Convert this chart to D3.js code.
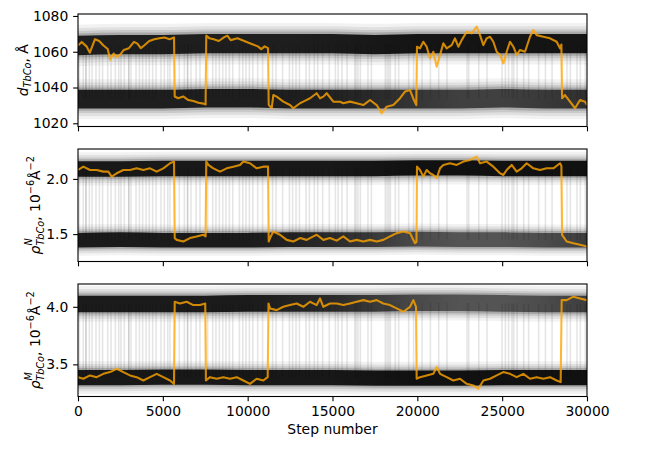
<!DOCTYPE html>
<html><head><meta charset="utf-8">
<script src="https://cdn.jsdelivr.net/npm/d3@7"></script>
<style>body{margin:0;background:#fff}text{font-family:"DejaVu Sans",sans-serif;fill:#000}</style>
</head><body><svg id="c" width="665" height="449"></svg>
<script>
// ---------- data ----------
const xTicks = [0, 5000, 10000, 15000, 20000, 25000, 30000];
const dTicks = [1020, 1040, 1060, 1080];
const nTicks = [1.5, 2.0];
const mTicks = [3.5, 4.0];

// highlighted walker (orange)
const orangeStepsD = [0,220,500,700,1000,1250,1500,1750,1900,2100,2300,2500,2700,3000,3300,3500,3700,3900,4200,4500,4800,5100,5400,5660,5700,5900,6200,6500,6800,7100,7400,7520,7560,7750,8000,8300,8600,8800,9000,9400,9800,10200,10600,10800,11000,11200,11240,11415,11513,11710,12103,12495,12692,13085,13281,13674,14067,14264,14460,14657,15050,15442,15639,16032,16425,16818,17211,17604,17898,18193,18586,18980,19274,19568,19800,19940,19980,20157,20354,20551,20747,20943,21140,21337,21533,21730,22024,22220,22417,22614,22908,23203,23498,23694,23891,24087,24284,24480,24677,24873,25070,25266,25462,25659,25855,26052,26347,26641,26838,27034,27427,27820,28213,28409,28490,28530,28704,28999,29294,29588,29883,30000];
const orangeD = [1063.5,1065.5,1063,1059.5,1067,1066,1063.5,1061.5,1055.5,1059,1057,1058.5,1061,1062,1065.5,1064.5,1062,1063.5,1066,1067,1067.5,1068,1067,1068,1035,1034,1035,1033,1032.5,1031.5,1031,1030.5,1069,1067.5,1067,1066,1068,1069,1066.5,1067.5,1066,1064.5,1063,1061.5,1063,1062,1030.3,1028.4,1035.8,1034.9,1032.1,1030.2,1028.4,1031.2,1032.1,1034,1036.8,1034,1034.9,1036.8,1032.1,1032,1031.2,1032.1,1031.2,1030.2,1033,1030.2,1025.6,1029.3,1030.2,1034,1037.7,1038.6,1033,1030.2,1062.8,1061.9,1065.6,1062.8,1056.3,1060,1051.6,1058.2,1064.7,1061.9,1063.7,1067.5,1062.8,1066.5,1071.2,1070.3,1074,1069.3,1063.7,1067.5,1068.4,1065.6,1060,1058.2,1053.5,1060,1065.6,1062.8,1058.2,1061,1060,1068.4,1072.1,1069.3,1068.4,1067.5,1065.6,1061.9,1064,1034,1035.8,1032.1,1028.4,1033,1032.1,1030.2];

const orangeStepsN = [0,314,707,1100,1493,1788,1984,2279,2672,3065,3458,3851,4244,4637,5030,5423,5660,5700,5816,6208,6601,6994,7387,7520,7560,7682,7977,8370,8763,9156,9549,9745,10138,10531,10924,11200,11240,11317,11513,11906,12299,12692,13085,13478,13871,14067,14460,14853,15246,15639,16032,16425,16818,17211,17604,17997,18390,18782,19175,19568,19863,19950,19980,20157,20354,20551,20747,20943,21140,21337,21533,21926,22319,22712,23105,23498,23694,24087,24480,24873,25070,25266,25561,25855,26150,26445,26838,27231,27624,28016,28409,28490,28530,28802,29196,29588,30000];
const orangeN = [2.081,2.111,2.081,2.081,2.066,2.066,2.021,2.051,2.081,2.081,2.096,2.081,2.096,2.066,2.096,2.142,2.157,1.464,1.448,1.433,1.464,1.479,1.494,1.479,2.157,2.127,2.096,2.066,2.096,2.111,2.127,2.157,2.142,2.096,2.111,2.111,1.433,1.464,1.524,1.494,1.448,1.433,1.464,1.448,1.479,1.494,1.448,1.464,1.441,1.479,1.433,1.448,1.433,1.448,1.433,1.448,1.479,1.509,1.524,1.509,1.418,1.43,2.111,2.081,2.021,2.081,2.051,2.036,2.006,2.096,2.127,2.142,2.127,2.157,2.172,2.202,2.142,2.157,2.111,2.051,2.036,2.081,2.127,2.066,2.096,2.142,2.096,2.081,2.096,2.096,2.142,2.12,1.494,1.433,1.418,1.403,1.388];

const orangeStepsM = [0,314,707,1100,1493,1886,2279,2672,3065,3458,3851,4244,4637,5030,5423,5660,5700,6012,6405,6798,7191,7500,7540,7780,8173,8566,8959,9352,9745,10138,10531,10924,11180,11230,11317,11710,12103,12495,12888,13281,13674,14067,14264,14460,14853,15246,15639,16032,16425,16818,17211,17604,17997,18390,18782,19175,19568,19765,19922,19961,20157,20551,20943,21140,21337,21730,22122,22515,22908,23301,23596,23891,24284,24677,25070,25462,25855,26248,26641,27034,27427,27820,28213,28448,28508,28802,29196,29588,30000];
const orangeM = [3.389,3.375,3.404,3.389,3.418,3.433,3.462,3.433,3.404,3.389,3.36,3.389,3.418,3.389,3.36,3.331,4.044,4.029,4.044,4.015,4.015,4.029,3.36,3.389,3.375,3.389,3.375,3.389,3.36,3.331,3.375,3.36,3.389,4.029,3.986,3.971,4.0,4.015,4.029,4.0,4.044,4.015,4.073,4.0,4.029,4.029,4.015,4.029,4.044,4.058,4.044,4.058,4.029,4.015,3.986,3.957,4.0,4.058,4.0,3.375,3.389,3.404,3.418,3.477,3.418,3.389,3.36,3.375,3.331,3.317,3.288,3.36,3.375,3.404,3.433,3.418,3.389,3.418,3.375,3.389,3.375,3.389,3.36,3.346,4.058,4.058,4.088,4.073,4.058];

// steps at which other walkers jump between the two modes
const transitionSteps = [80,310,470,470,670,830,1060,1260,1450,1750,1950,2200,2400,2530,2730,2990,2990,3120,3420,3620,3810,4010,4200,4400,4600,4890,5090,5290,5420,5970,6270,6460,6460,6660,6960,7190,7640,7940,8130,8330,8530,8720,8920,9120,9510,9710,9900,10100,10300,10590,10880,11470,11670,12060,12460,12650,12850,13050,13440,13640,13930,14130,14420,14810,15170,15330,15560,15860,16310,16390,16500,16640,17090,17290,18110,18210,18310,18410,18700,18900,19490,19780,20280,20770,21260,21750,22930,23030,23620,24110,24990,25190,25380,25580,25680,25880,26270,26560,27150,27550,27940,28820,29020,29410,29610,29900];

// ensemble of walkers: mode centre, spread and crowding, sampled every 2500 steps
const bandSteps = [0,2500,5000,7500,10000,12500,15000,17500,20000,22500,25000,27500,30000];
const dHighCentre = [1063.5,1064,1064,1064.5,1064.5,1064.5,1064.5,1064,1064.5,1064.5,1064.5,1064.5,1064.5];
const dLowCentre  = [1033.5,1033.5,1033.5,1034,1034,1033.5,1033.5,1033.5,1033.5,1033.5,1034,1033.5,1033.5];
const nHighCentre = [2.09,2.09,2.095,2.095,2.095,2.095,2.095,2.095,2.1,2.1,2.095,2.095,2.095];
const nLowCentre  = [1.445,1.45,1.445,1.445,1.445,1.45,1.45,1.45,1.455,1.45,1.45,1.445,1.445];
const mHighCentre = [4.025,4.025,4.025,4.025,4.03,4.03,4.03,4.03,4.035,4.035,4.03,4.025,4.025];
const mLowCentre  = [3.385,3.385,3.39,3.39,3.385,3.385,3.385,3.38,3.38,3.38,3.385,3.385,3.385];
const dHighSpread = 5.4, dLowSpread = 5.2;
const nHighSpread = 0.07, nLowSpread = 0.066;
const mHighSpread = 0.072, mLowSpread = 0.066;
const dHighCrowd = [0.82,0.82,0.82,0.82,0.82,0.82,0.84,0.86,0.88,0.88,0.88,0.88,0.88];
const dLowCrowd  = [0.82,0.82,0.82,0.82,0.82,0.82,0.8,0.75,0.68,0.62,0.62,0.66,0.72];
const nHighCrowd = [0.86,0.86,0.86,0.86,0.86,0.86,0.86,0.88,0.9,0.9,0.9,0.9,0.9];
const nLowCrowd  = [0.84,0.84,0.84,0.84,0.84,0.8,0.75,0.66,0.56,0.5,0.5,0.55,0.64];
const mHighCrowd = [0.84,0.84,0.84,0.84,0.84,0.8,0.75,0.66,0.56,0.5,0.5,0.55,0.64];
const mLowCrowd  = [0.86,0.86,0.86,0.86,0.86,0.86,0.86,0.88,0.9,0.9,0.9,0.9,0.9];

// ---------- layout ----------
const FS = 13.9, TICK = 4.86;
const svg = d3.select("#c");
const X0 = 78, X1 = 587, PH = 112.5;
const x = d3.scaleLinear().domain([0, 30000]).range([X0, X1]);
const panels = [
  {top: 14,  dom: [1018.2, 1081.1], ticks: dTicks, fmt: d3.format("d"),
   steps: orangeStepsD, vals: orangeD,
   bands: [[dHighCentre, dHighSpread, dHighCrowd], [dLowCentre, dLowSpread, dLowCrowd]], label: "d"},
  {top: 149, dom: [1.252, 2.271], ticks: nTicks, fmt: d3.format(".1f"),
   steps: orangeStepsN, vals: orangeN,
   bands: [[nHighCentre, nHighSpread, nHighCrowd], [nLowCentre, nLowSpread, nLowCrowd]], label: "N"},
  {top: 284, dom: [3.221, 4.198], ticks: mTicks, fmt: d3.format(".1f"),
   steps: orangeStepsM, vals: orangeM,
   bands: [[mHighCentre, mHighSpread, mHighCrowd], [mLowCentre, mLowSpread, mLowCrowd]], label: "M"}
];
// soft fall-off of walker density away from the core: [width factor, opacity]
const halo = [[2.15, 0.05], [1.8, 0.07], [1.5, 0.1], [1.25, 0.16]];
const defs = svg.append("defs");

panels.forEach((p, pi) => {
  const y = d3.scaleLinear().domain(p.dom).range([p.top + PH, p.top]);
  defs.append("clipPath").attr("id", "clip" + pi).append("rect")
    .attr("x", X0).attr("y", p.top).attr("width", X1 - X0).attr("height", PH);
  const g = svg.append("g").attr("clip-path", `url(#clip${pi})`);

  const cHigh = d3.scaleLinear().domain(bandSteps).range(p.bands[0][0]);
  const cLow = d3.scaleLinear().domain(bandSteps).range(p.bands[1][0]);
  // transitions of the other walkers
  g.append("g").selectAll("line").data(transitionSteps).join("line")
    .attr("x1", d => x(d)).attr("x2", d => x(d))
    .attr("y1", d => y(cHigh(d))).attr("y2", d => y(cLow(d)))
    .attr("stroke", "#000").attr("stroke-opacity", 0.1).attr("stroke-width", 1.6);

  // walker bands
  p.bands.forEach((b, bi) => {
    const [centre, spread, crowd] = b;
    const pts = bandSteps.map((s, i) => ({s, c: centre[i]}));
    const gid = `grad${pi}_${bi}`;
    const grad = defs.append("linearGradient").attr("id", gid)
      .attr("gradientUnits", "userSpaceOnUse").attr("x1", X0).attr("x2", X1).attr("y1", 0).attr("y2", 0);
    bandSteps.forEach((s, i) => grad.append("stop")
      .attr("offset", s / 30000).attr("stop-color", "#000").attr("stop-opacity", crowd[i]));
    const layers = halo.map(([f, op]) => [spread * f, "#000", op]).concat([[spread, `url(#${gid})`, 1]]);
    layers.forEach(([w, fill, op]) => {
      const area = d3.area().curve(d3.curveMonotoneX)
        .x(d => x(d.s)).y0(d => y(d.c - w)).y1(d => y(d.c + w));
      g.append("path").attr("d", area(pts)).attr("fill", fill).attr("fill-opacity", op);
    });
  });

  // highlighted walker
  const line = d3.line().x(d => x(d[0])).y(d => y(d[1]));
  g.append("path").attr("d", line(p.steps.map((s, i) => [s, p.vals[i]])))
    .attr("fill", "none").attr("stroke", "#ffa500").attr("stroke-opacity", 0.8)
    .attr("stroke-width", 2.1).attr("stroke-linejoin", "round");

  // axes
  const ya = svg.append("g").attr("transform", `translate(${X0},0)`)
    .call(d3.axisLeft(y).tickValues(p.ticks).tickFormat(p.fmt).tickSize(TICK).tickPadding(TICK));
  const xa = svg.append("g").attr("transform", `translate(0,${p.top + PH})`)
    .call(d3.axisBottom(x).tickValues(xTicks).tickFormat(pi === 2 ? d3.format("d") : "").tickSize(TICK).tickPadding(TICK));
  [ya, xa].forEach(a => {
    a.attr("font-size", FS).attr("font-family", "DejaVu Sans");
    a.select(".domain").remove();
    a.selectAll("line").attr("stroke", "#000").attr("stroke-width", 1.1);
    a.selectAll("text").attr("fill", "#000");
  });
  svg.append("rect").attr("x", X0).attr("y", p.top).attr("width", X1 - X0).attr("height", PH)
    .attr("fill", "none").attr("stroke", "#000").attr("stroke-width", 1.1);

  // y label
  const cy = p.top + PH / 2;
  const SUB = FS * 0.7;
  if (pi === 0) {
    const t = svg.append("text").attr("transform", `translate(27.5,${cy}) rotate(-90)`)
      .attr("text-anchor", "middle").attr("font-size", FS);
    t.append("tspan").attr("font-style", "italic").text("d");
    t.append("tspan").attr("font-style", "italic").attr("font-size", SUB).attr("dy", 3.6).text("TbCo");
    t.append("tspan").attr("dy", -3.6).text(", Å");
  } else {
    const t = svg.append("text").attr("transform", `translate(39.5,${cy}) rotate(-90)`)
      .attr("text-anchor", "middle").attr("font-size", FS);
    t.append("tspan").attr("font-style", "italic").text("ρ");
    t.append("tspan").attr("font-style", "italic").attr("font-size", SUB).attr("dy", -7.5).text(p.label);
    t.append("tspan").attr("font-style", "italic").attr("font-size", SUB)
      .attr("dx", p.label === "N" ? -7.3 : -8.8).attr("dy", 11.5).text("TbCo");
    t.append("tspan").attr("dy", -4).text(", 10");
    t.append("tspan").attr("font-size", SUB).attr("dy", -5.8).text("−6");
    t.append("tspan").attr("dy", 5.8).text("Å");
    t.append("tspan").attr("font-size", SUB).attr("dy", -5.8).text("−2");
  }
});

svg.append("text").attr("x", (X0 + X1) / 2).attr("y", 433.5).attr("text-anchor", "middle")
  .attr("font-size", FS).text("Step number");
</script></body></html>
